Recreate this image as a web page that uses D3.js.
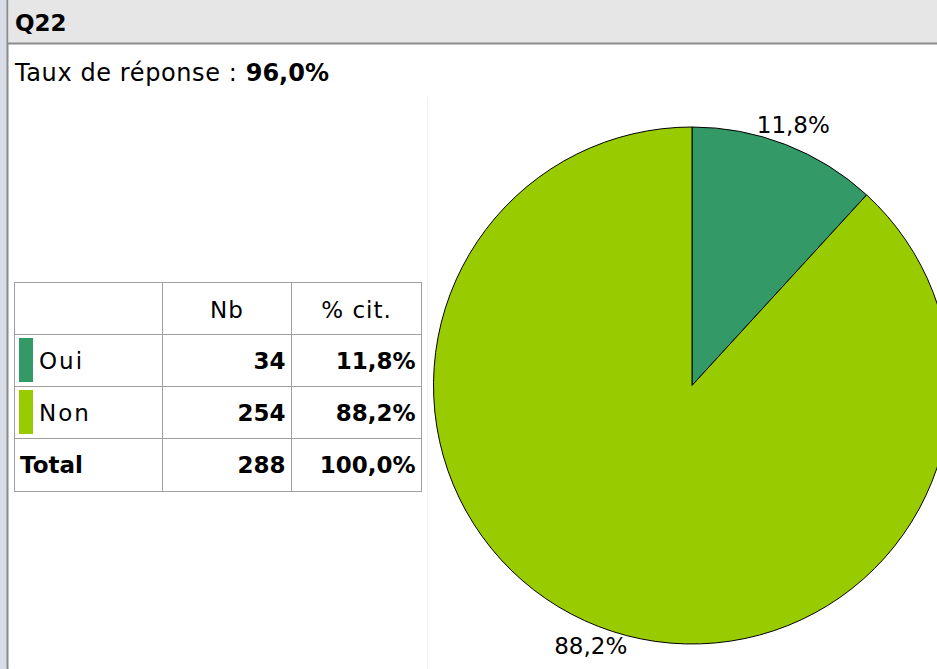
<!DOCTYPE html>
<html>
<head>
<meta charset="utf-8">
<script src="https://cdn.jsdelivr.net/npm/d3@7"></script>
<style>
  html, body { margin: 0; padding: 0; background: #fff; overflow: hidden; }
  svg { display: block; font-family: "DejaVu Sans", sans-serif; }
</style>
</head>
<body>
<svg id="chart" width="937" height="669"></svg>
<script>
// Question Q22 — answer counts
const title = "Q22";
const responseRate = "96,0%";
const categories = ["Oui", "Non"];
const counts = [34, 254];
const percents = ["11,8%", "88,2%"];
const totalCount = 288;
const totalPercent = "100,0%";
const colors = ["#339966", "#99cc00"];

const W = 937, H = 669;
const svg = d3.select("#chart");

// Side strip and panel frame
svg.append("rect").attr("x", 0).attr("y", 0).attr("width", 8).attr("height", H).attr("fill", "#d9dde7");
svg.append("rect").attr("x", 7.5).attr("y", -12).attr("width", W + 20).attr("height", 689)
  .attr("rx", 10).attr("fill", "#fff").attr("stroke", "#8a8a8a").attr("stroke-width", 2);

// Header bar
const clip = svg.append("clipPath").attr("id", "panelClip");
clip.append("rect").attr("x", 8.5).attr("y", -12).attr("width", W + 20).attr("height", 689).attr("rx", 10);
svg.append("rect").attr("clip-path", "url(#panelClip)")
  .attr("x", 8).attr("y", -12).attr("width", W).attr("height", 55).attr("fill", "#e6e6e6");
svg.append("line").attr("x1", 8).attr("x2", W).attr("y1", 43.5).attr("y2", 43.5)
  .attr("stroke", "#8a8a8a").attr("stroke-width", 2);
svg.append("text").attr("x", 15).attr("y", 31).attr("font-size", 23).attr("font-weight", "bold")
  .attr("fill", "#000").text(title);

// Response rate
const rate = svg.append("text").attr("x", 15).attr("y", 81).attr("font-size", 24).attr("fill", "#000");
rate.append("tspan").attr("letter-spacing", 0.6).text("Taux de réponse : ");
rate.append("tspan").attr("font-weight", "bold").text(responseRate);

// Faint divider between table and chart
svg.append("line").attr("x1", 427.5).attr("x2", 427.5).attr("y1", 97).attr("y2", H)
  .attr("stroke", "#f0f0f0").attr("stroke-width", 1);

// Table
const colX = [14.5, 162.5, 291.5, 421.5];
const rowY = [282.5, 334.5, 386.5, 438.5, 491.5];
const tbl = svg.append("g");
tbl.append("rect").attr("x", colX[0]).attr("y", rowY[0])
  .attr("width", colX[3] - colX[0]).attr("height", rowY[4] - rowY[0])
  .attr("fill", "#fff").attr("stroke", "#a0a0a0");
colX.slice(1, 3).forEach(x => tbl.append("line").attr("x1", x).attr("x2", x)
  .attr("y1", rowY[0]).attr("y2", rowY[4]).attr("stroke", "#a0a0a0"));
rowY.slice(1, 4).forEach(y => tbl.append("line").attr("x1", colX[0]).attr("x2", colX[3])
  .attr("y1", y).attr("y2", y).attr("stroke", "#a0a0a0"));

const fs = 23;
tbl.append("text").attr("x", (colX[1] + colX[2]) / 2).attr("y", rowY[0] + 35)
  .attr("text-anchor", "middle").attr("font-size", fs).attr("letter-spacing", 1).text("Nb");
tbl.append("text").attr("x", (colX[2] + colX[3]) / 2).attr("y", rowY[0] + 35)
  .attr("text-anchor", "middle").attr("font-size", fs).attr("letter-spacing", 1).text("% cit.");

categories.forEach((c, i) => {
  const y0 = rowY[i + 1];
  tbl.append("rect").attr("x", 19).attr("y", y0 + 3.5).attr("width", 14).attr("height", 44)
    .attr("fill", colors[i]);
  tbl.append("text").attr("x", 39).attr("y", y0 + 34).attr("font-size", fs)
    .attr("letter-spacing", 2).text(c);
  tbl.append("text").attr("x", colX[2] - 6).attr("y", y0 + 34).attr("text-anchor", "end")
    .attr("font-size", fs).attr("font-weight", "bold").text(counts[i]);
  tbl.append("text").attr("x", colX[3] - 6).attr("y", y0 + 34).attr("text-anchor", "end")
    .attr("font-size", fs).attr("font-weight", "bold").text(percents[i]);
});
const yT = rowY[3];
tbl.append("text").attr("x", 20).attr("y", yT + 34).attr("font-size", fs).attr("font-weight", "bold").text("Total");
tbl.append("text").attr("x", colX[2] - 6).attr("y", yT + 34).attr("text-anchor", "end")
  .attr("font-size", fs).attr("font-weight", "bold").text(totalCount);
tbl.append("text").attr("x", colX[3] - 6).attr("y", yT + 34).attr("text-anchor", "end")
  .attr("font-size", fs).attr("font-weight", "bold").text(totalPercent);

// Pie
const cx = 692, cy = 385.5, R = 258.5;
const pie = d3.pie().sort(null).value(d => d.n);
const arcs = pie(categories.map((c, i) => ({ c, n: counts[i], p: percents[i], col: colors[i] })));
const arc = d3.arc().innerRadius(0).outerRadius(R);
const labelArc = d3.arc().innerRadius(R + 21).outerRadius(R + 21);
const g = svg.append("g").attr("transform", `translate(${cx},${cy})`);
g.selectAll("path").data(arcs).join("path")
  .attr("d", arc).attr("fill", d => d.data.col).attr("stroke", "#000").attr("stroke-width", 1);
g.selectAll("text").data(arcs).join("text")
  .attr("transform", d => `translate(${labelArc.centroid(d)})`)
  .attr("text-anchor", "middle").attr("dominant-baseline", "central")
  .attr("font-size", fs).attr("fill", "#000").text(d => d.data.p);
</script>
</body>
</html>
